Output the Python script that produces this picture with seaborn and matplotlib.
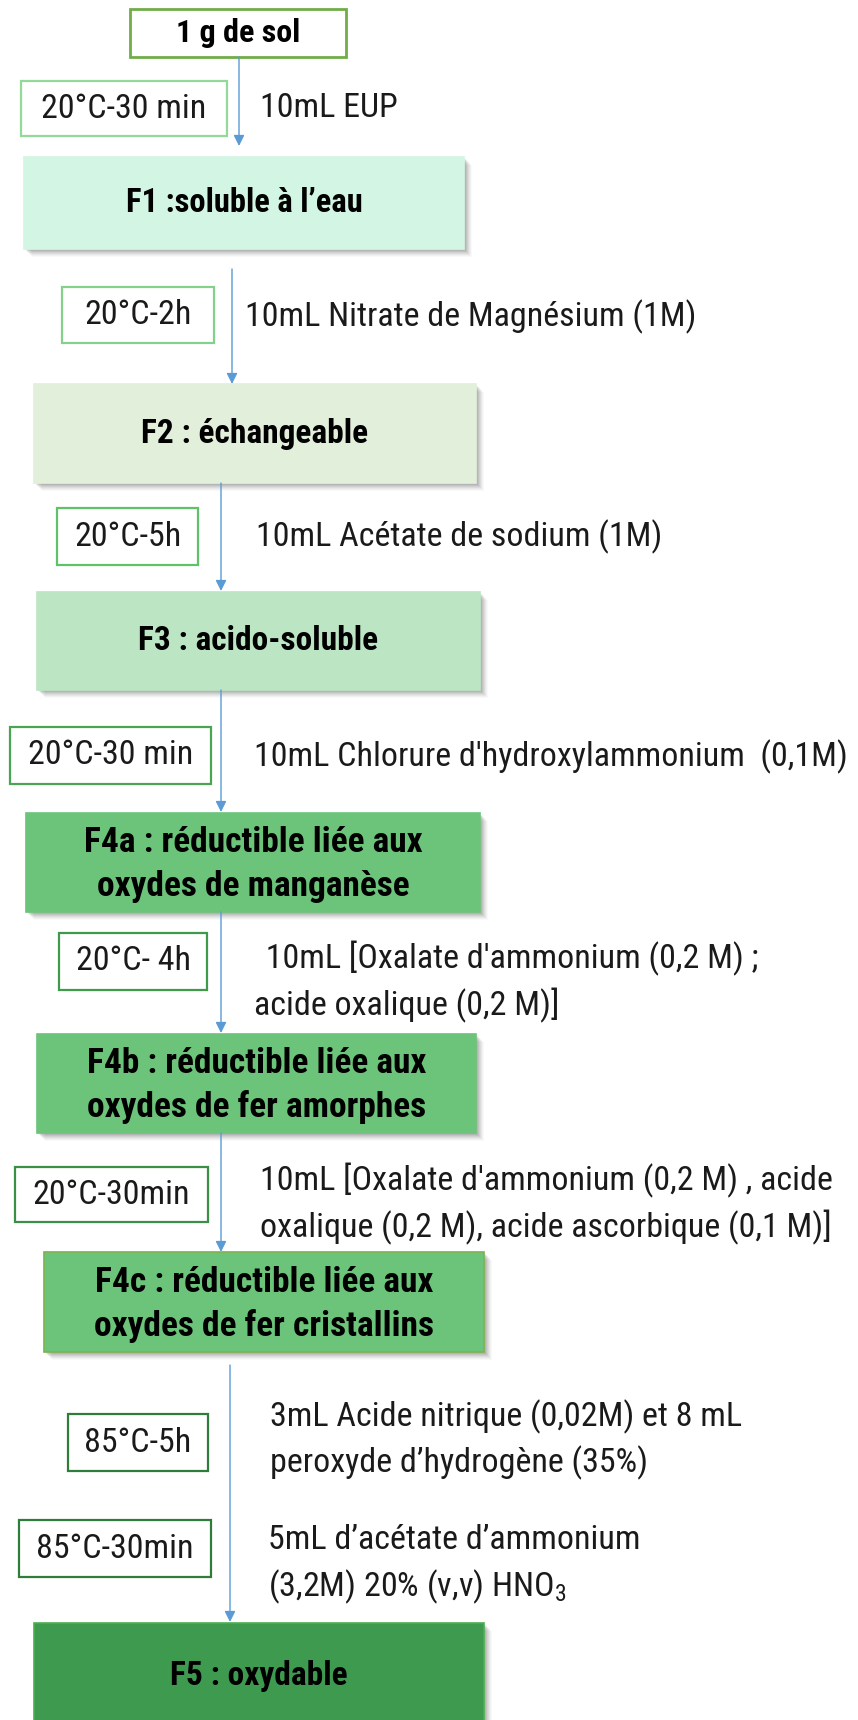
import matplotlib
matplotlib.use("Agg")
import matplotlib.pyplot as plt
from matplotlib import font_manager
from matplotlib.patches import Rectangle
import seaborn as sns

# ---------------- data ----------------
nodes = [
    "1 g de sol",
    "F1 :soluble à l’eau",
    "F2 : échangeable",
    "F3 : acido-soluble",
    "F4a : réductible liée aux\noxydes de manganèse",
    "F4b : réductible liée aux\noxydes de fer amorphes",
    "F4c : réductible liée aux\noxydes de fer cristallins",
    "F5 : oxydable",
]
conditions = ["20°C-30 min", "20°C-2h", "20°C-5h", "20°C-30 min",
              "20°C- 4h", "20°C-30min", "85°C-5h", "85°C-30min"]
reagents = [
    "10mL EUP",
    "10mL Nitrate de Magnésium (1M)",
    "10mL Acétate de sodium (1M)",
    "10mL Chlorure d'hydroxylammonium  (0,1M)",
    " 10mL [Oxalate d'ammonium (0,2 M) ;\nacide oxalique (0,2 M)]",
    "10mL [Oxalate d'ammonium (0,2 M) , acide\noxalique (0,2 M), acide ascorbique (0,1 M)]",
    "3mL Acide nitrique (0,02M) et 8 mL\nperoxyde d’hydrogène (35%)",
    "5mL d’acétate d’ammonium\n(3,2M) 20% (v,v) HNO$_3$",
]

# ---------------- layout / style ----------------
node_boxes = [(130, 9, 346, 57), (24, 157, 464, 249), (34, 384, 476, 483),
              (37, 592, 480, 690), (26, 813, 480, 912), (37, 1034, 476, 1133),
              (44, 1252, 484, 1352), (34, 1623, 484, 1740)]
node_fill = ["white", "#d3f5e3", "#e2efda", "#bbe5c3", "#6cc47a", "#6cc47a",
             "#6cc47a", "#3d9a4e"]
node_edge = ["#70ad47", None, None, None, None, None, "#7db24f", "#4caf50"]
node_fs = [23, 23.5, 24, 24, 25.5, 25.5, 25.5, 24]

arrows = [(239, 57, 146), (232, 269, 384), (221, 483, 591), (221, 690, 812),
          (221, 912, 1033), (221, 1133, 1252), (230, 1365, 1622)]

cond_boxes = [(21, 81, 227, 136), (62, 287, 214, 343), (57, 508, 198, 565),
              (10, 727, 211, 784), (59, 933, 207, 990), (15, 1167, 208, 1222),
              (68, 1414, 208, 1471), (19, 1520, 211, 1577)]
cond_edge = ["#92d99a", "#84d18c", "#5fc26a", "#4aa451", "#3f9a4a", "#3a9045",
             "#2e7d3a", "#2e7d3a"]

reag_pos = [[(260, 108)], [(245, 317)], [(256, 537)], [(254, 757)],
            [(258, 958), (254, 1005)], [(260, 1180), (260, 1227)],
            [(270, 1417), (270, 1463)], [(268, 1540), (268, 1587)]]

sns.set_theme(style="white")


def pick(cands):
    for c in cands:
        try:
            font_manager.findfont(c, fallback_to_default=False)
            return c
        except Exception:
            pass
    return "DejaVu Sans"


FONT = pick(["Liberation Sans Narrow", "Roboto Condensed", "Open Sans Condensed",
             "Liberation Sans"])
plt.rcParams["font.family"] = [FONT, "DejaVu Sans"]
plt.rcParams["mathtext.fontset"] = "custom"
plt.rcParams["mathtext.rm"] = FONT

W, H = 858, 1720
fig = plt.figure(figsize=(W / 100, H / 100), dpi=100)
ax = fig.add_axes([0, 0, 1, 1])
ax.set_xlim(0, W)
ax.set_ylim(H, 0)
ax.axis("off")

# shadows + node boxes
for i, (x0, y0, x1, y1) in enumerate(node_boxes):
    if i > 0:
        for k, a in zip(range(2, 9), [0.10, 0.09, 0.08, 0.06, 0.05, 0.04, 0.03]):
            ax.add_patch(Rectangle((x0 + k, y0 + k), x1 - x0, y1 - y0,
                                   facecolor="#404040", edgecolor="none",
                                   alpha=a, zorder=1))
    ec = node_edge[i] if node_edge[i] else node_fill[i]
    lw = 2.0 if i == 0 else 1.2
    ax.add_patch(Rectangle((x0, y0), x1 - x0, y1 - y0, facecolor=node_fill[i],
                           edgecolor=ec, lw=lw, zorder=2))
    lines = nodes[i].split("\n")
    cy = (y0 + y1) / 2 if i < 7 else 1676
    cx = (x0 + x1) / 2
    if len(lines) == 1:
        ax.text(cx, cy, lines[0], ha="center", va="center", fontsize=node_fs[i],
                fontweight="bold", color="black", zorder=3)
    else:
        for j, ln in enumerate(lines):
            ax.text(cx, cy - 20 + 44 * j, ln, ha="center", va="center",
                    fontsize=node_fs[i], fontweight="bold", color="black",
                    zorder=3)

# arrows
for x, ya, yb in arrows:
    ax.annotate("", xy=(x, yb), xytext=(x, ya),
                arrowprops=dict(arrowstyle="-|>", color="#5b9bd5", lw=1.0,
                                mutation_scale=16, shrinkA=0, shrinkB=0),
                zorder=2)

# condition boxes
for i, (x0, y0, x1, y1) in enumerate(cond_boxes):
    ax.add_patch(Rectangle((x0, y0), x1 - x0, y1 - y0, facecolor="white",
                           edgecolor=cond_edge[i], lw=1.6, zorder=2))
    ax.text((x0 + x1) / 2, (y0 + y1) / 2, conditions[i], ha="center",
            va="center", fontsize=24.5, color="#1a1a1a", zorder=3)

# reagent texts
for i, txt in enumerate(reagents):
    for ln, (x, y) in zip(txt.split("\n"), reag_pos[i]):
        ax.text(x, y, ln, ha="left", va="center", fontsize=24.5,
                color="#1a1a1a", zorder=3)

fig.savefig("out.png", dpi=100, facecolor="white")
